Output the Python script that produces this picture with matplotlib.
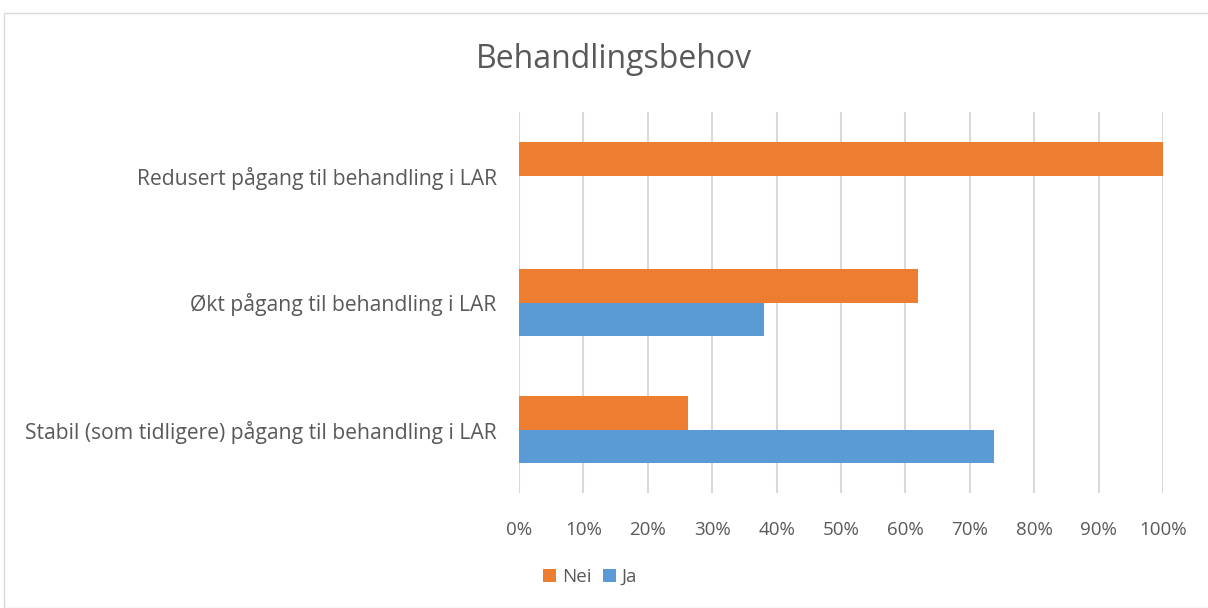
import numpy as np
import matplotlib.pyplot as plt
from matplotlib.patches import Rectangle

categories = ["Stabil (som tidligere) pågang til behandling i LAR",
              "Økt pågang til behandling i LAR",
              "Redusert pågang til behandling i LAR"]
nei = [26.3, 61.9, 100.0]
ja = [73.7, 38.1, 0.0]
xticks = [0, 10, 20, 30, 40, 50, 60, 70, 80, 90, 100]

text_col = "#595959"
plt.rcParams['font.family'] = ['Open Sans', 'DejaVu Sans']

fig = plt.figure(figsize=(12.08, 6.08), dpi=100)
ax = fig.add_axes([519 / 1208, 1 - 493 / 608, 644 / 1208, 381 / 608])

y = np.arange(len(categories))
h = 0.26
ax.barh(y + h / 2, nei, height=h, color="#ED7D31", label="Nei", zorder=3)
ax.barh(y - h / 2, ja, height=h, color="#5B9BD5", label="Ja", zorder=3)

ax.set_xlim(0, 100)
ax.set_ylim(-0.5, 2.5)
ax.set_xticks(xticks)
ax.set_xticklabels([f"{t}%" for t in xticks])
ax.set_yticks(y)
ax.set_yticklabels(categories)
ax.grid(axis="x", color="#D9D9D9", linewidth=1.5, zorder=0)
for s in ax.spines.values():
    s.set_visible(False)
ax.tick_params(axis="both", length=0, colors=text_col)
ax.tick_params(axis="x", pad=20, labelsize=13.5)
ax.tick_params(axis="y", pad=16, labelsize=15.2)

fig.text(614 / 1208, 1 - 60 / 608, "Behandlingsbehov", ha="center", va="center",
         fontsize=23, color=text_col)

fig.legend(loc="center", bbox_to_anchor=(590 / 1208, 1 - 577 / 608), ncol=2,
           frameon=False, fontsize=13.5, labelcolor=text_col, handlelength=0.7,
           handleheight=0.7, handletextpad=0.3, columnspacing=0.6)

fig.patches.append(Rectangle((4 / 1208, 0), 1.1, 1 - 13 / 608, transform=fig.transFigure,
                             fill=False, edgecolor="#D9D9D9", linewidth=1))

fig.savefig("out.png", dpi=100)
